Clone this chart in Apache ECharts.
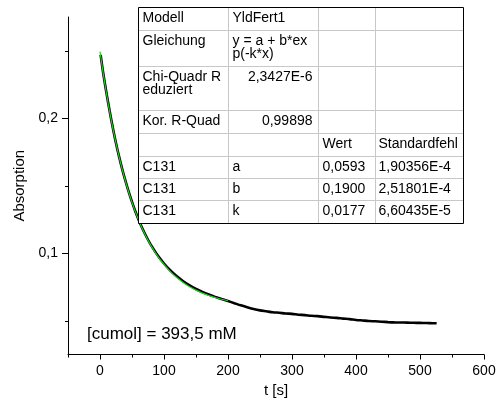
<!DOCTYPE html>
<html>
<head>
<meta charset="utf-8">
<script src="https://cdn.jsdelivr.net/npm/echarts@6/dist/echarts.min.js"></script>
<style>
  html, body { margin: 0; padding: 0; background: #ffffff; }
  #chart { width: 499px; height: 408px; }
</style>
</head>
<body>
<div id="chart"></div>
<script>
// Measured absorption decay (time in s)
const timeS = [1, 5, 10, 15, 20, 25, 30, 35, 40, 45, 50, 55, 60, 65, 70, 75, 80, 90, 100, 110,
  120, 130, 140, 150, 160, 170, 180, 190, 200, 210, 220, 230, 240, 250, 260, 270, 280, 290, 300,
  310, 320, 330, 340, 350, 360, 370, 380, 390, 400, 410, 420, 430, 440, 450, 460, 470, 480, 490,
  500, 510, 520, 526];
const absorption = [0.2470, 0.2335, 0.2190, 0.2055, 0.1930, 0.1815, 0.1712, 0.1618, 0.1532, 0.1452,
  0.1380, 0.1313, 0.1252, 0.1196, 0.1146, 0.1100, 0.1058, 0.0985, 0.0924, 0.0872,
  0.0829, 0.0793, 0.0762, 0.0735, 0.0713, 0.0694, 0.0677, 0.0661, 0.0646, 0.0630,
  0.0614, 0.0600, 0.0587, 0.0577, 0.0570, 0.0563, 0.0559, 0.0554, 0.0551,
  0.0545, 0.0542, 0.0537, 0.0534, 0.0529, 0.0524, 0.0521, 0.0516, 0.0512, 0.0506,
  0.0502, 0.0498, 0.0496, 0.0493, 0.0490, 0.0488, 0.0487, 0.0486, 0.0485,
  0.0484, 0.0483, 0.0482, 0.0481];

// Fitted exponential decay curve
const fitTimeS = [0, 10, 20, 30, 40, 50, 60, 70, 80, 90, 100, 110, 120, 130, 140, 150, 160, 170, 180, 190, 200];
const fitAbsorption = [0.2493, 0.2185, 0.1927, 0.1710, 0.1529, 0.1377, 0.1250, 0.1143, 0.1054, 0.0979,
  0.0917, 0.0864, 0.0820, 0.0783, 0.0752, 0.0727, 0.0705, 0.0687, 0.0672, 0.0659, 0.0648];

// Axis ticks
const xMajorTicks = [0, 100, 200, 300, 400, 500, 600];
const xMinorTicks = [-50, 50, 150, 250, 350, 450, 550];
const yMajorTicks = [0.1, 0.2];
const yMinorTicks = [0.05, 0.15, 0.25];

// Fit result table
const tableRows = [
  ['Modell', 'YldFert1', '', ''],
  ['Gleichung', 'y = a + b*ex\np(-k*x)', '', ''],
  ['Chi-Quadr R\neduziert', '2,3427E-6', '', ''],
  ['Kor. R-Quad', '0,99898', '', ''],
  ['', '', 'Wert', 'Standardfehl'],
  ['C131', 'a', '0,0593', '1,90356E-4'],
  ['C131', 'b', '0,1900', '2,51801E-4'],
  ['C131', 'k', '0,0177', '6,60435E-5']
];
const concentrationNote = '[cumol] = 393,5 mM';

const FONT = '"Liberation Sans", Arial, sans-serif';

// table layout
const colEdges = [138.5, 228.5, 318.5, 375.5, 463.5];
const rowEdges = [7.5, 30.5, 66.5, 110.5, 133.5, 156.5, 178.5, 200.5, 223.5];
const rightAlignedCells = { '2,1': true, '3,1': true };

function buildTable() {
  const els = [];
  const x0 = colEdges[0], x1 = colEdges[colEdges.length - 1];
  const y0 = rowEdges[0], y1 = rowEdges[rowEdges.length - 1];
  els.push({ type: 'rect', shape: { x: x0, y: y0, width: x1 - x0, height: y1 - y0 },
    style: { fill: '#ffffff', stroke: null }, z: 10 });
  for (let i = 1; i < rowEdges.length - 1; i++) {
    els.push({ type: 'line', shape: { x1: x0, y1: rowEdges[i], x2: x1, y2: rowEdges[i] },
      style: { stroke: '#c8c8c8', lineWidth: 1 }, z: 11 });
  }
  for (let j = 1; j < colEdges.length - 1; j++) {
    els.push({ type: 'line', shape: { x1: colEdges[j], y1: y0, x2: colEdges[j], y2: y1 },
      style: { stroke: '#c8c8c8', lineWidth: 1 }, z: 11 });
  }
  els.push({ type: 'rect', shape: { x: x0, y: y0, width: x1 - x0, height: y1 - y0 },
    style: { fill: null, stroke: '#000000', lineWidth: 1 }, z: 12 });
  tableRows.forEach((row, r) => {
    row.forEach((txt, c) => {
      if (!txt) return;
      const right = rightAlignedCells[r + ',' + c];
      els.push({
        type: 'text', z: 13,
        style: {
          text: txt,
          x: right ? colEdges[c + 1] - 6 : colEdges[c] + (c === 3 ? 3 : 4),
          y: rowEdges[r] + 4,
          align: right ? 'right' : 'left',
          verticalAlign: 'top',
          fontSize: 14,
          lineHeight: 13,
          fontFamily: FONT,
          fill: '#000000'
        }
      });
    });
  });
  return els;
}

const chart = echarts.init(document.getElementById('chart'), null, { renderer: 'canvas' });

const commaFmt = (v) => String(v).replace('.', ',');

chart.setOption({
  animation: false,
  backgroundColor: '#ffffff',
  grid: { left: 68, top: 17, width: 416, height: 337.5, containLabel: false },
  xAxis: [
    {
      type: 'value', min: -50, max: 600, position: 'bottom',
      name: 't [s]', nameLocation: 'middle', nameGap: 25,
      nameTextStyle: { fontSize: 15, fontFamily: FONT, color: '#000' },
      axisLine: { show: true, onZero: false, lineStyle: { color: '#000', width: 1 } },
      axisTick: { show: true, inside: false, length: 5, customValues: xMajorTicks, lineStyle: { color: '#000' } },
      axisLabel: { show: true, customValues: xMajorTicks, margin: 10, fontSize: 14, fontFamily: FONT, color: '#000' },
      splitLine: { show: false }
    },
    {
      type: 'value', min: -50, max: 600, position: 'bottom',
      axisLine: { show: false, onZero: false },
      axisTick: { show: true, inside: false, length: 3, customValues: xMinorTicks, lineStyle: { color: '#000' } },
      axisLabel: { show: false },
      splitLine: { show: false }
    }
  ],
  yAxis: [
    {
      type: 'value', min: 0.025, max: 0.275, position: 'left',
      name: 'Absorption', nameLocation: 'middle', nameGap: 41,
      nameTextStyle: { fontSize: 15, fontFamily: FONT, color: '#000' },
      axisLine: { show: true, onZero: false, lineStyle: { color: '#000', width: 1 } },
      axisTick: { show: true, inside: false, length: 6, customValues: yMajorTicks, lineStyle: { color: '#000' } },
      axisLabel: { show: true, customValues: yMajorTicks, margin: 10, fontSize: 14, fontFamily: FONT, color: '#000',
        formatter: commaFmt },
      splitLine: { show: false }
    },
    {
      type: 'value', min: 0.025, max: 0.275, position: 'left',
      axisLine: { show: false, onZero: false },
      axisTick: { show: true, inside: false, length: 3, customValues: yMinorTicks, lineStyle: { color: '#000' } },
      axisLabel: { show: false },
      splitLine: { show: false }
    }
  ],
  series: [
    {
      name: 'C131', type: 'line', xAxisIndex: 0, yAxisIndex: 0,
      data: timeS.map((t, i) => [t, absorption[i]]),
      symbol: 'none', smooth: 0.3,
      lineStyle: { color: '#000000', width: 2.6 },
      z: 2
    },
    {
      name: 'YldFert1', type: 'line', xAxisIndex: 0, yAxisIndex: 0,
      data: fitTimeS.map((t, i) => [t, fitAbsorption[i]]),
      symbol: 'none', smooth: true,
      lineStyle: { color: '#1fd01f', width: 1.2 },
      z: 3
    }
  ],
  graphic: [
    ...buildTable(),
    {
      type: 'text', z: 13,
      style: { text: concentrationNote, x: 87, y: 334, verticalAlign: 'middle', align: 'left',
        fontSize: 17, fontFamily: FONT, fill: '#000000' }
    }
  ]
});
</script>
</body>
</html>
